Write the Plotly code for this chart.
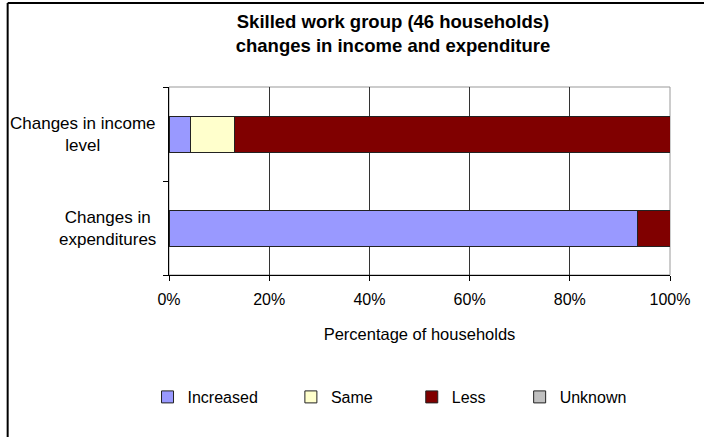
import plotly.graph_objects as go

categories = ["Changes in expenditures", "Changes in income level"]
category_labels = ["Changes in<br>expenditures", "Changes in income<br>level"]
series_names = ["Increased", "Same", "Less", "Unknown"]
increased = [93.5, 4.3]
same = [0.0, 8.7]
less = [6.5, 87.0]
unknown = [0.0, 0.0]
series_values = [increased, same, less, unknown]
colors = ["#9999FF", "#FFFFCC", "#800000", "#C0C0C0"]
x_ticks = [0, 20, 40, 60, 80, 100]
x_tick_labels = ["0%", "20%", "40%", "60%", "80%", "100%"]

FONT = "Liberation Sans, Arial, sans-serif"

# plot area in pixels
L, R, T, B = 169, 670.5, 87, 275
W, H = 704, 437
pw, ph = R - L, B - T
def px(x):
    return (x - L) / pw
def py(y):
    return (B - y) / ph

fig = go.Figure()
legend_centers = [172.5, 316, 437, 545]
legend_ids = ["legend", "legend2", "legend3", "legend4"]
for name, vals, col, lid in zip(series_names, series_values, colors, legend_ids):
    fig.add_trace(go.Bar(
        y=categories, x=vals, name=name, orientation="h",
        marker=dict(color=col, line=dict(color="#222222", width=1)),
        legend=lid, hoverinfo="x+name",
    ))

layout_legends = {}
for lid, cx in zip(legend_ids, legend_centers):
    layout_legends[lid] = dict(
        x=px(cx - 25), xanchor="left", y=py(397), yanchor="middle",
        orientation="h", font=dict(family=FONT, size=16, color="#000"),
        bgcolor="rgba(0,0,0,0)", itemwidth=30, traceorder="normal",
    )

fig.update_layout(
    width=W, height=H,
    margin=dict(l=L, r=W - R, t=T, b=H - B, pad=0),
    paper_bgcolor="white", plot_bgcolor="white",
    barmode="stack", bargap=0.617,
    showlegend=True,
    title=dict(
        text="<b>Skilled work group (46 households)<br>changes in income and expenditure</b>",
        x=393 / W, xref="container", xanchor="center",
        y=1 - 28 / H, yref="container", yanchor="top",
        font=dict(family=FONT, size=18.5, color="#000"),
    ),
    xaxis=dict(
        range=[0, 100], tickvals=x_ticks, ticktext=x_tick_labels,
        showgrid=True, gridcolor="#333333", gridwidth=1,
        showline=True, linecolor="#000", linewidth=1,
        ticks="outside", ticklen=5, tickcolor="#000",
        ticklabelstandoff=5,
        tickfont=dict(family=FONT, size=16, color="#000"),
        title=dict(text="Percentage of households", standoff=21,
                   font=dict(family=FONT, size=16.5, color="#000")),
        zeroline=False, fixedrange=True,
    ),
    yaxis=dict(
        type="category", categoryorder="array", categoryarray=categories,
        showticklabels=False, tickson="boundaries",
        showline=True, linecolor="#000", linewidth=1,
        ticks="outside", ticklen=5, tickcolor="#000",
        showgrid=False, fixedrange=True,
    ),
    **layout_legends,
)

# category labels (centered multi-line, right-anchored block)
for cat, lab in zip(categories, category_labels):
    fig.add_annotation(
        x=px(158), xref="paper", xanchor="right",
        y=cat, yref="y", yanchor="middle",
        text=lab, showarrow=False, align="center",
        font=dict(family=FONT, size=17, color="#000"),
    )

# plot-area border (gray) and chart frame
fig.add_shape(type="rect", xref="paper", yref="paper", x0=0, x1=1, y0=0, y1=1,
              line=dict(color="#999999", width=1), layer="below")
fig.add_shape(type="line", xref="paper", yref="paper",
              x0=px(7.5), x1=px(7.5), y0=py(3), y1=py(H + 5),
              line=dict(color="#000", width=2))
fig.add_shape(type="line", xref="paper", yref="paper",
              x0=px(7.5), x1=px(W + 5), y0=py(3), y1=py(3),
              line=dict(color="#000", width=2))

fig.write_html("out.html", config={"displayModeBar": False},
               post_script="document.body.style.margin='0';document.body.style.overflow='hidden';")
